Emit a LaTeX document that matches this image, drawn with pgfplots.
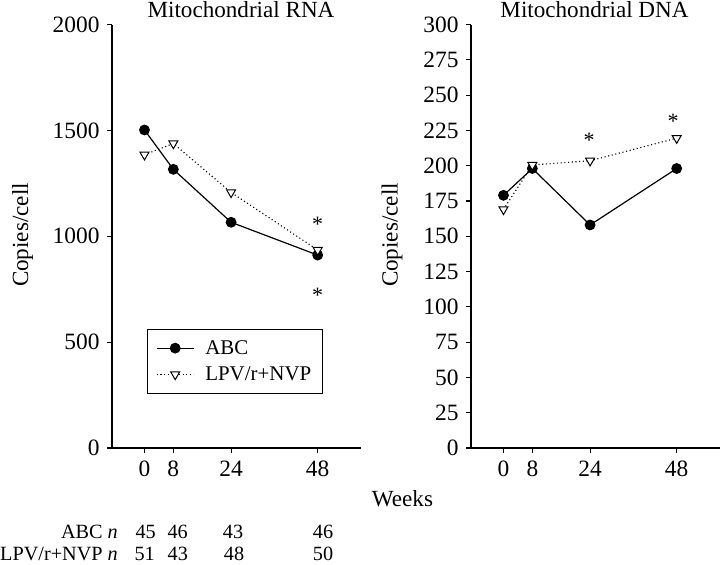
\documentclass[border=0pt]{standalone}
\usepackage{pgfplots}
\pgfplotsset{compat=1.18}
\usepackage{fontspec}
\setmainfont{Liberation Serif}

\pgfplotstableread{
wk abc lpv
0 1502 1385
8 1316 1438
24 1066 1207
48 911 935
}\rnadata
\pgfplotstableread{
wk abc lpv
0 179 169
8 198 200.5
24 158 203.5
48 198 219.5
}\dnadata

\pgfplotsset{
  myaxis/.style={
    scale only axis, width=249bp, height=423.5bp,
    axis x line*=bottom, axis y line*=left,
    xmin=-9, xmax=60, xtick={0,8,24,48},
    tick align=outside, major tick length=5bp,
    axis line style={line width=1.1bp, black},
    every tick/.style={line width=1.1bp, black},
    ticklabel style={font=\fontsize{23.5}{23.5}\selectfont},
    yticklabel style={xshift=-4bp},
    xticklabel style={yshift=-4bp},
    /pgf/number format/assume math mode=true,
    /pgf/number format/set thousands separator={},
    clip=false,
  },
  abcstyle/.style={black, line width=1.2bp, mark=*, mark size=4.8bp},
  lpvstyle/.style={black, line width=1.1bp, dash pattern=on 1.1bp off 2.6bp,
    mark=triangle*, mark size=5.2bp,
    mark options={solid, fill=white, rotate=180, line width=1bp}},
}

\begin{document}
\begin{tikzpicture}
\useasboundingbox (0,0) rectangle (720bp,-565bp);

\begin{axis}[myaxis, at={(112bp,-448bp)}, anchor=south west,
  ymin=0, ymax=2000, ytick={0,500,1000,1500,2000},
  legend style={at={(rel axis cs:0.139,0.2810)}, anchor=north west,
    draw=black, line width=1bp, font=\fontsize{21}{21}\selectfont,
    inner xsep=9bp, inner ysep=9bp, row sep=7bp, column sep=9bp},
  legend cell align=left,
  legend image code/.code={\draw[mark repeat=2,mark phase=2] plot coordinates {(0bp,0bp) (18.5bp,0bp) (37bp,0bp)};},
]
\addplot[abcstyle] table[x=wk,y=abc] {\rnadata};
\addlegendentry{ABC}
\addplot[lpvstyle] table[x=wk,y=lpv] {\rnadata};
\addlegendentry{LPV/r+NVP}
\node[font=\fontsize{22}{22}\selectfont, yshift=-4bp] at (axis cs:48,1077) {*};
\node[font=\fontsize{22}{22}\selectfont, yshift=-4bp] at (axis cs:48,738) {*};
\end{axis}

\begin{axis}[myaxis, at={(471bp,-448bp)}, anchor=south west,
  ymin=0, ymax=300, ytick={0,25,...,300},
]
\addplot[abcstyle] table[x=wk,y=abc] {\dnadata};
\addplot[lpvstyle] table[x=wk,y=lpv] {\dnadata};
\node[font=\fontsize{22}{22}\selectfont, yshift=-4bp] at (axis cs:23.7,221) {*};
\node[font=\fontsize{22}{22}\selectfont, yshift=-4bp] at (axis cs:47,234.6) {*};
\end{axis}

\begin{scope}[font=\fontsize{23.2}{23.2}\selectfont]
\node[anchor=base, inner sep=0pt] at (241bp,-17.5bp) {Mitochondrial RNA};
\node[anchor=base, inner sep=0pt] at (594.5bp,-17.5bp) {Mitochondrial DNA};
\node[anchor=base, rotate=90] at (28bp,-235bp) {Copies/cell};
\node[anchor=base, rotate=90] at (397.5bp,-235bp) {Copies/cell};
\node[anchor=base] at (402.5bp,-506bp) {Weeks};
\end{scope}

\begin{scope}[font=\fontsize{20.3}{20.3}\selectfont]
\node[anchor=base east, inner sep=0pt] at (118bp,-538bp) {ABC \textit{n}};
\node[anchor=base east, inner sep=0pt] at (118bp,-560bp) {LPV/r+NVP \textit{n}};
\node[anchor=base] at (145.7bp,-538bp) {45};
\node[anchor=base] at (177.7bp,-538bp) {46};
\node[anchor=base] at (233bp,-538bp) {43};
\node[anchor=base] at (323bp,-538bp) {46};
\node[anchor=base] at (144.7bp,-560bp) {51};
\node[anchor=base] at (177.8bp,-560bp) {43};
\node[anchor=base] at (234bp,-560bp) {48};
\node[anchor=base] at (323bp,-560bp) {50};
\end{scope}
\end{tikzpicture}
\end{document}
